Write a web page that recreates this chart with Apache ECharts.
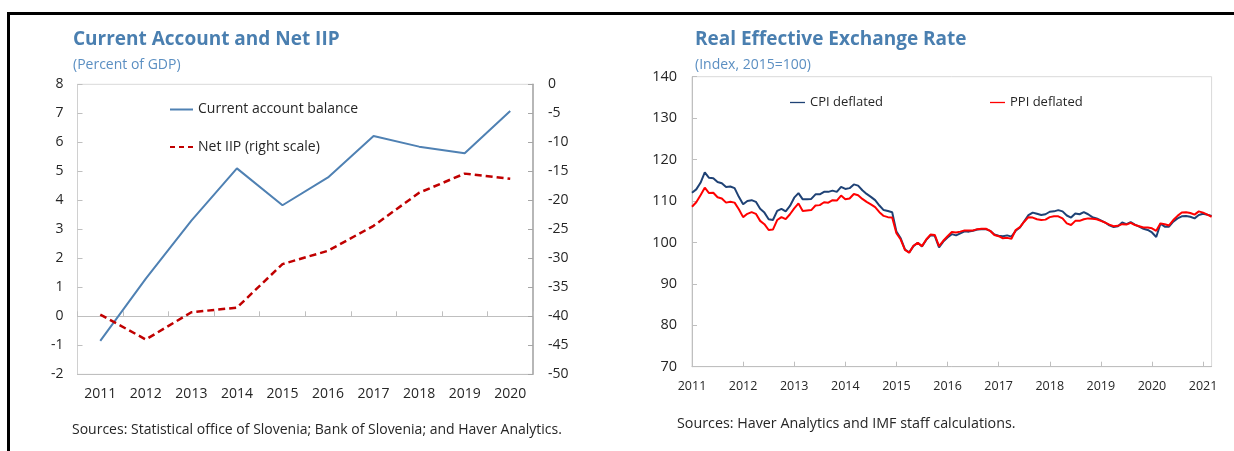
<!DOCTYPE html>
<html lang="en">
<head>
<meta charset="UTF-8">
<title>Current Account and REER</title>
<script src="https://cdn.jsdelivr.net/npm/echarts@6/dist/echarts.min.js"></script>
<style>
    body { margin: 0; background: #fff; }
    #frame {
        position: absolute; left: 7px; top: 12px; width: 1227px; height: 439px;
        border-top: 3px solid #000; border-left: 3px solid #000; box-sizing: border-box;
    }
    #main { position: absolute; left: 0; top: 0; width: 1234px; height: 451px; }
</style>
</head>
<body>
<div id="frame"></div>
<div id="main"></div>
<script>
    // left panel: annual, percent of GDP
    var years = ['2011', '2012', '2013', '2014', '2015', '2016', '2017', '2018', '2019', '2020'];
    var currentAccount = [-0.85, 1.3, 3.3, 5.1, 3.83, 4.79, 6.22, 5.85, 5.62, 7.08];
    var netIIP = [-39.7, -44.0, -39.3, -38.5, -31.0, -28.7, -24.4, -18.7, -15.4, -16.3];

    // right panel: monthly REER, Jan 2011 - Mar 2021
    var reerYears = ['2011', '2012', '2013', '2014', '2015', '2016', '2017', '2018', '2019', '2020', '2021'];
    var cpiDeflated = [
        112.0, 112.8, 114.4, 116.9, 115.6, 115.5, 114.6, 114.3, 113.4, 113.5, 113.1, 111.0,
        109.2, 110.0, 110.2, 109.8, 108.1, 107.2, 105.6, 105.4, 107.6, 108.1, 107.5, 108.8,
        110.8, 111.9, 110.4, 110.4, 110.5, 111.6, 111.6, 112.2, 112.2, 112.5, 112.2, 113.4,
        112.9, 113.1, 114.0, 113.7, 112.6, 111.7, 111.0, 110.2, 108.9, 107.8, 107.6, 107.3,
        102.6, 101.0, 98.3, 97.6, 99.1, 99.9, 99.0, 100.6, 101.7, 101.6, 98.8, 100.2,
        101.2, 102.0, 101.7, 102.2, 102.7, 102.6, 102.8, 103.1, 103.2, 103.2, 102.8, 101.9,
        101.6, 101.5, 101.7, 101.4, 102.8, 103.6, 105.1, 106.6, 107.2, 106.9, 106.6, 106.8,
        107.4, 107.5, 107.8, 107.5, 106.5, 106.0, 107.0, 106.8, 107.3, 106.8, 106.1, 105.8,
        105.3, 104.8, 104.1, 103.7, 103.9, 104.8, 104.4, 104.9, 104.3, 103.8, 103.3, 103.0,
        102.4, 101.3, 104.5, 103.8, 103.8, 105.0, 105.8, 106.3, 106.4, 106.2, 105.8, 106.6,
        106.9, 106.7, 106.4
    ];
    var ppiDeflated = [
        108.6, 109.7, 111.4, 113.2, 111.9, 112.0, 110.9, 110.6, 109.6, 109.8, 109.6, 108.0,
        106.1, 106.9, 107.3, 106.9, 105.2, 104.4, 103.0, 103.1, 105.4, 106.1, 105.6, 106.8,
        108.2, 109.4, 107.6, 107.7, 107.8, 108.9, 109.0, 109.7, 109.6, 110.2, 110.1, 111.3,
        110.4, 110.6, 111.7, 111.4, 110.5, 109.8, 109.2, 108.5, 107.3, 106.4, 106.1, 106.0,
        102.2, 100.7, 98.2, 97.5, 99.2, 99.9, 99.1, 100.7, 101.9, 101.8, 99.1, 100.4,
        101.5, 102.5, 102.4, 102.6, 102.9, 102.9, 102.9, 103.2, 103.3, 103.3, 102.8, 101.8,
        101.5, 101.0, 101.1, 100.9, 103.0, 103.7, 105.0, 106.1, 106.0, 105.6, 105.4, 105.5,
        106.1, 106.3, 106.3, 105.8, 104.6, 104.2, 105.2, 105.2, 105.6, 105.8, 105.7, 105.6,
        105.2, 104.8, 104.3, 103.9, 104.0, 104.4, 104.3, 104.7, 104.2, 103.9, 103.6, 103.6,
        103.4, 102.8, 104.6, 104.4, 104.1, 105.4, 106.4, 107.2, 107.3, 107.1, 106.7, 107.5,
        107.2, 106.7, 106.2
    ];

    var months = [];
    reerYears.forEach(function (y) {
        for (var m = 1; m <= 12; m++) {
            months.push(y + '-' + (m < 10 ? '0' + m : m));
        }
    });
    months = months.slice(0, cpiDeflated.length);

    function isYearStart(idx, val) {
        return val.slice(5) === '01';
    }

    var font = 'Open Sans';
    var txt = '#262626';
    var titleBlue = '#4a7fb0';
    var solidIcon = 'path://M0,0H23V2H0Z';
    var dashIcon = 'path://M0,0H5V2H0Z M9,0H14V2H9Z M18,0H23V2H18Z';

    var chart = echarts.init(document.getElementById('main'));
    var option = {
        animation: false,
        textStyle: { fontFamily: font },
        title: [
            { text: 'Current Account and Net IIP', left: 73, top: 30, padding: 0,
              textStyle: { fontFamily: font, fontSize: 19, fontWeight: 'bold', color: titleBlue } },
            { text: '(Percent of GDP)', left: 73, top: 58, padding: 0,
              textStyle: { fontFamily: font, fontSize: 14, fontWeight: 'normal', color: '#5b8fc2' } },
            { text: 'Sources: Statistical office of Slovenia; Bank of Slovenia; and Haver Analytics.', left: 72, top: 423, padding: 0,
              textStyle: { fontFamily: font, fontSize: 14, fontWeight: 'normal', color: txt } },
            { text: 'Real Effective Exchange Rate', left: 695, top: 30, padding: 0,
              textStyle: { fontFamily: font, fontSize: 19, fontWeight: 'bold', color: titleBlue } },
            { text: '(Index, 2015=100)', left: 695, top: 58, padding: 0,
              textStyle: { fontFamily: font, fontSize: 14, fontWeight: 'normal', color: '#5b8fc2' } },
            { text: 'Sources: Haver Analytics and IMF staff calculations.', left: 677, top: 417, padding: 0,
              textStyle: { fontFamily: font, fontSize: 14.3, fontWeight: 'normal', color: txt } }
        ],
        legend: [
            { data: [{ name: 'Current account balance', icon: solidIcon }], left: 170, top: 102.5, padding: 0,
              itemWidth: 23, itemHeight: 2, textStyle: { fontSize: 14, color: txt } },
            { data: [{ name: 'Net IIP (right scale)', icon: dashIcon }], left: 170, top: 140, padding: 0,
              itemWidth: 23, itemHeight: 2.5, textStyle: { fontSize: 14, color: txt } },
            { data: [{ name: 'CPI deflated', icon: solidIcon }], left: 790, top: 96, padding: 0,
              itemWidth: 15, itemHeight: 2, textStyle: { fontSize: 13, color: txt } },
            { data: [{ name: 'PPI deflated', icon: solidIcon }], left: 990, top: 96, padding: 0,
              itemWidth: 15, itemHeight: 2, textStyle: { fontSize: 13, color: txt } }
        ],
        grid: [
            { left: 77.5, top: 84.3, width: 455.5, height: 290, show: true,
              borderColor: '#d9d9d9', borderWidth: 1 },
            { left: 692, top: 76.7, width: 519.6, height: 290, show: true,
              borderColor: '#d9d9d9', borderWidth: 1 }
        ],
        xAxis: [
            { type: 'category', gridIndex: 0, data: years, position: 'bottom', boundaryGap: true,
              axisLine: { onZero: false, lineStyle: { color: '#bfbfbf', width: 1 } },
              axisTick: { show: false },
              axisLabel: { fontSize: 14, color: txt, margin: 13 } },
            { type: 'category', gridIndex: 0, data: years, position: 'top', boundaryGap: true,
              axisLine: { onZero: true, lineStyle: { color: '#bfbfbf', width: 1 } },
              axisTick: { show: true, inside: false, length: 5, lineStyle: { color: '#bfbfbf' } },
              axisLabel: { show: false } },
            { type: 'category', gridIndex: 1, data: months, boundaryGap: false,
              axisLine: { onZero: false, lineStyle: { color: '#bfbfbf', width: 1 } },
              axisTick: { show: true, inside: true, length: 5, interval: isYearStart,
                          lineStyle: { color: '#bfbfbf' } },
              axisLabel: { fontSize: 12.5, color: txt, margin: 13, interval: isYearStart,
                           formatter: function (v) { return v.slice(0, 4); } } }
        ],
        yAxis: [
            { type: 'value', gridIndex: 0, min: -2, max: 8, interval: 1, position: 'left',
              axisLine: { show: true, lineStyle: { color: '#d0d0d0' } },
              axisTick: { show: true, inside: true, length: 5, lineStyle: { color: '#bfbfbf' } },
              splitLine: { show: false },
              axisLabel: { fontSize: 14, color: txt, margin: 14 } },
            { type: 'value', gridIndex: 0, min: -50, max: 0, interval: 5, position: 'right',
              axisLine: { show: true, lineStyle: { color: '#a6a6a6', width: 1.5 } },
              axisTick: { show: true, inside: true, length: 5, lineStyle: { color: '#a6a6a6' } },
              splitLine: { show: false },
              axisLabel: { fontSize: 14, color: txt, margin: 15 } },
            { type: 'value', gridIndex: 1, min: 70, max: 140, interval: 10,
              axisLine: { show: true, lineStyle: { color: '#bfbfbf' } },
              axisTick: { show: true, inside: true, length: 5, lineStyle: { color: '#bfbfbf' } },
              splitLine: { show: false },
              axisLabel: { fontSize: 14.5, color: txt, margin: 15 } }
        ],
        series: [
            { name: 'Current account balance', type: 'line', xAxisIndex: 0, yAxisIndex: 0,
              data: currentAccount, symbol: 'none', color: '#4f81b3',
              lineStyle: { color: '#4f81b3', width: 2 } },
            { name: 'Net IIP (right scale)', type: 'line', xAxisIndex: 0, yAxisIndex: 1,
              data: netIIP, symbol: 'none', color: '#c00000',
              lineStyle: { color: '#c00000', width: 2.5, type: [7, 4] } },
            { name: 'CPI deflated', type: 'line', xAxisIndex: 2, yAxisIndex: 2,
              data: cpiDeflated, symbol: 'none', color: '#1f4275',
              lineStyle: { color: '#1f4275', width: 2 } },
            { name: 'PPI deflated', type: 'line', xAxisIndex: 2, yAxisIndex: 2,
              data: ppiDeflated, symbol: 'none', color: '#ff0000',
              lineStyle: { color: '#ff0000', width: 2 } }
        ]
    };
    chart.setOption(option);
</script>
</body>
</html>
